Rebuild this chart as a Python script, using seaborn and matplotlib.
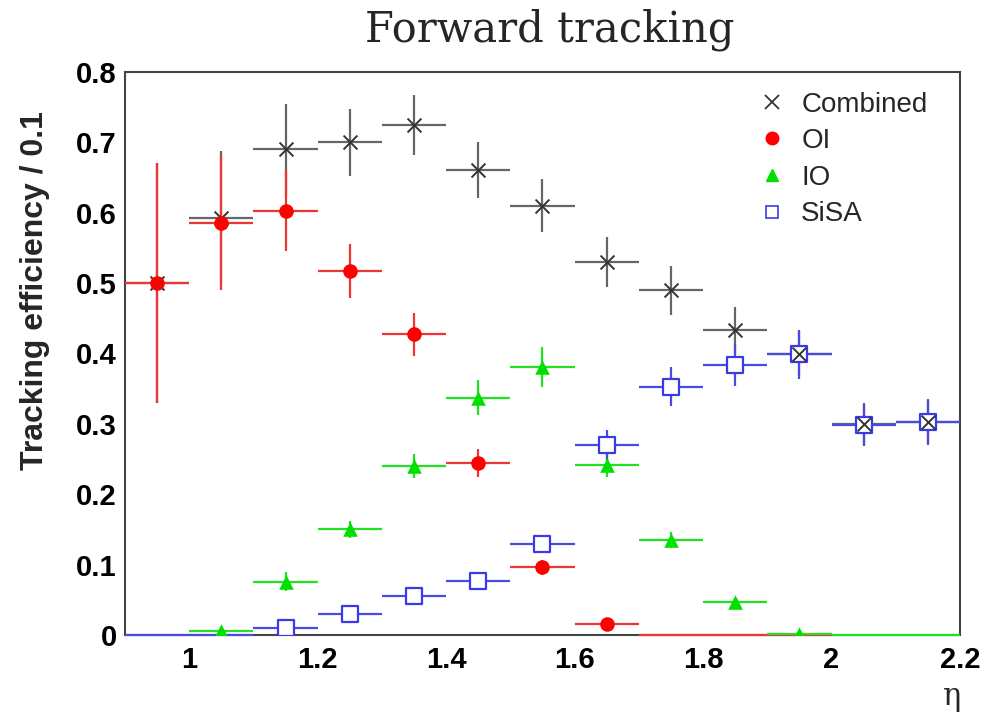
import numpy as np
import matplotlib
matplotlib.use("Agg")
import matplotlib.pyplot as plt
import seaborn as sns
from matplotlib.lines import Line2D
from matplotlib.ticker import MultipleLocator, FixedLocator, FixedFormatter

# ---------------- data ----------------
eta = [0.95, 1.05, 1.15, 1.25, 1.35, 1.45, 1.55, 1.65, 1.75, 1.85, 1.95, 2.05, 2.15]
bin_half = 0.05
nan = np.nan

combined = [0.500, 0.593, 0.690, 0.700, 0.725, 0.661, 0.610, 0.530, 0.490, 0.433, 0.400, 0.300, 0.303]
combined_err = [0.170, 0.095, 0.065, 0.048, 0.043, 0.040, 0.038, 0.035, 0.035, 0.033, 0.032, 0.030, 0.032]

oi = [0.500, 0.585, 0.603, 0.517, 0.427, 0.245, 0.096, 0.016, 0.0, 0.0, 0.0, nan, nan]
oi_err = [0.170, 0.095, 0.058, 0.038, 0.030, 0.020, 0.011, 0.004, 0.0, 0.0, 0.0, 0.0, 0.0]

io = [nan, 0.006, 0.076, 0.150, 0.240, 0.337, 0.381, 0.242, 0.135, 0.047, 0.002, 0.0, 0.0]
io_err = [0.0, 0.003, 0.013, 0.012, 0.017, 0.025, 0.028, 0.018, 0.012, 0.006, 0.002, 0.0, 0.0]

sisa = [0.0, 0.0, 0.010, 0.030, 0.055, 0.077, 0.129, 0.270, 0.353, 0.384, 0.399, 0.298, 0.302]
sisa_err = [0.0, 0.0, 0.003, 0.004, 0.006, 0.008, 0.012, 0.022, 0.028, 0.030, 0.035, 0.030, 0.032]

series_names = ["Combined", "OI", "IO", "SiSA"]
x_ticks = [1.0, 1.2, 1.4, 1.6, 1.8, 2.0, 2.2]
x_ticklabels = ["1", "1.2", "1.4", "1.6", "1.8", "2", "2.2"]
y_ticks = [0.0, 0.1, 0.2, 0.3, 0.4, 0.5, 0.6, 0.7, 0.8]
y_ticklabels = ["0", "0.1", "0.2", "0.3", "0.4", "0.5", "0.6", "0.7", "0.8"]

# ---------------- style ----------------
sns.set_theme(style="white")
plt.rcParams["font.family"] = ["Liberation Sans", "DejaVu Sans"]

fig = plt.figure(figsize=(9.95, 7.14), dpi=100)
ax = fig.add_axes([125 / 995, 1 - 635 / 714, (960 - 125) / 995, (635 - 72) / 714])

col_comb = "#666666"
col_oi = "#ee3535"
col_io = "#22e022"
col_sisa = "#4a4ae0"

styles = [
    (combined, combined_err, col_comb, 2.0),
    (oi, oi_err, col_oi, 2.1),
    (io, io_err, col_io, 2.2),
    (sisa, sisa_err, col_sisa, 2.3),
]

x = np.array(eta)
for vals, errs, c, z in styles:
    v = np.array(vals, dtype=float)
    e = np.array(errs, dtype=float)
    m = ~np.isnan(v)
    eb = ax.errorbar(x[m], v[m], xerr=bin_half, yerr=e[m], fmt="none",
                     ecolor=c, elinewidth=1.6, capsize=0, zorder=z)
    for coll in eb.lines[2]:
        coll.set_clip_on(False)

# markers (only non-zero entries are visible)
def pts(vals):
    v = np.array(vals, dtype=float)
    m = (~np.isnan(v)) & (v > 0)
    return x[m], v[m]

xs, ys = pts(sisa)
sns.scatterplot(x=xs, y=ys, ax=ax, marker="s", s=120, facecolor="white",
                edgecolor="#3a3ae8", linewidth=1.6, zorder=4)
xc, yc = pts(combined)
sns.scatterplot(x=xc, y=yc, ax=ax, marker="x", s=100, color="#333333",
                linewidth=1.4, zorder=5)
xi, yi = pts(io)
sns.scatterplot(x=xi, y=yi, ax=ax, marker="^", s=110, color="#00e000",
                edgecolor="#00e000", linewidth=0, zorder=6)
xo, yo = pts(oi)
sns.scatterplot(x=xo, y=yo, ax=ax, marker="o", s=110, color="#ff0000",
                edgecolor="#ff0000", linewidth=0, zorder=6)

# ---------------- axes ----------------
ax.set_xlim(0.9, 2.2)
ax.set_ylim(0.0, 0.8)
ax.xaxis.set_major_locator(FixedLocator(x_ticks))
ax.xaxis.set_major_formatter(FixedFormatter(x_ticklabels))
ax.xaxis.set_minor_locator(MultipleLocator(0.05))
ax.yaxis.set_major_locator(FixedLocator(y_ticks))
ax.yaxis.set_major_formatter(FixedFormatter(y_ticklabels))
ax.yaxis.set_minor_locator(MultipleLocator(0.02))

ax.tick_params(axis="both", which="both", direction="in", colors="#333333",
               top=False, right=False)
ax.tick_params(axis="y", which="major", length=18, width=1.3, pad=6)
ax.tick_params(axis="y", which="minor", length=9, width=1.3)
ax.tick_params(axis="x", which="major", length=11, width=1.3, pad=8)
ax.tick_params(axis="x", which="minor", length=5, width=1.3)
for lab in ax.get_xticklabels() + ax.get_yticklabels():
    lab.set_fontsize(21)
    lab.set_fontweight("bold")
    lab.set_color("black")
for sp in ax.spines.values():
    sp.set_color("#444444")
    sp.set_linewidth(1.5)
    sp.set_zorder(1.5)
ax.set_xlabel("")
ax.set_ylabel("")

# labels
fig.text(550 / 995, 1 - 30 / 714, "Forward tracking",
         ha="center", va="center", fontsize=30, family="DejaVu Serif")
fig.text(35 / 995, 1 - 291 / 714, "Tracking efficiency / 0.1", rotation=90,
         ha="center", va="center", fontsize=23, fontweight="bold")
fig.text(952 / 995, 1 - 697 / 714, "η", ha="center", va="center",
         fontsize=22, family="DejaVu Serif")

# legend
handles = [
    Line2D([], [], ls="none", marker="x", color="#333333", markersize=10, markeredgewidth=1.3),
    Line2D([], [], ls="none", marker="o", color="#ff0000", markersize=9),
    Line2D([], [], ls="none", marker="^", color="#00e000", markersize=8),
    Line2D([], [], ls="none", marker="s", markerfacecolor="white",
           markeredgecolor="#3a3ae8", markersize=9, markeredgewidth=1.2),
]
ax.legend(handles, series_names, loc="upper left", bbox_to_anchor=(0.745, 0.985),
          frameon=False, fontsize=20, handlelength=1.0, handletextpad=0.55,
          labelspacing=0.38, borderaxespad=0)

fig.savefig("out.png", dpi=100)
